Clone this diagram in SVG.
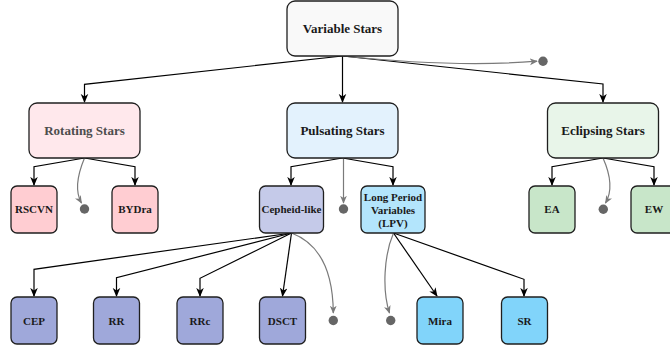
<svg xmlns="http://www.w3.org/2000/svg" width="670" height="351" viewBox="0 0 670 351" font-family="'Liberation Serif', 'Times New Roman', Times, serif">
<defs>
<style>
.box{stroke:#1f1f1f;stroke-width:1.3}
.t{font-weight:bold;fill:#1a1a1a;text-anchor:middle}
.big{font-size:13px}
.sm{font-size:11px}
.c{fill:none;stroke:#000;stroke-width:1.2;marker-end:url(#ab)}
.g{fill:none;stroke:#7a7a7a;stroke-width:1.2;marker-end:url(#ag)}
.dot{fill:#666}
</style>
<marker id="ab" viewBox="0 0 10 10" refX="9" refY="5" markerWidth="9" markerHeight="9" markerUnits="userSpaceOnUse" orient="auto">
<path d="M0,0.8 L10,5 L0,9.2 L2.8,5 z" fill="#000"/>
</marker>
<marker id="ag" viewBox="0 0 10 10" refX="9" refY="5" markerWidth="8" markerHeight="8" markerUnits="userSpaceOnUse" orient="auto">
<path d="M0,0.8 L10,5 L0,9.2 L2.8,5 z" fill="#7a7a7a"/>
</marker>
</defs>

<g id="connectors">
<path class="c" d="M342.5,56 L84.5,84.3 L84.5,102"/>
<path class="c" d="M342.5,56 L342.5,102"/>
<path class="c" d="M342.5,56 L603,84 L603,102"/>
<path class="g" d="M342.5,56 C420,64 490,65 537,61.2"/>
<path class="c" d="M84.5,158 L34,166.7 L34,185"/>
<path class="c" d="M84.5,158 L135,166.7 L135,185"/>
<path class="g" d="M84.5,158 C77,176 75,192 81.5,203"/>
<path class="c" d="M342.5,158 L291,166.7 L291,185"/>
<path class="c" d="M342.5,158 L393,166.7 L393,185"/>
<path class="g" d="M343.5,158 L343.5,203"/>
<path class="c" d="M603,158 L552,166.7 L552,185"/>
<path class="c" d="M603,158 L654,166.7 L654,185"/>
<path class="g" d="M603,158 C611,176 612,192 605.5,203"/>
<path class="c" d="M291.5,233 L34,269.3 L34,296"/>
<path class="c" d="M291.5,233 L116.5,277.7 L116.5,296"/>
<path class="c" d="M291.5,233 L200,278.3 L200,296"/>
<path class="c" d="M291.5,233 L282.5,296"/>
<path class="g" d="M291.5,233 C318,243 333,268 333.3,313"/>
<path class="c" d="M393.5,233 L437,296"/>
<path class="c" d="M393.5,233 L524,279.3 L524,296"/>
<path class="g" d="M393.5,233 C384,255 382,290 389.5,313"/>
</g>

<g id="dots">
<circle class="dot" cx="543" cy="61.3" r="4.7"/>
<circle class="dot" cx="84.5" cy="209" r="4.7"/>
<circle class="dot" cx="343.5" cy="209" r="4.7"/>
<circle class="dot" cx="603.3" cy="209.3" r="4.7"/>
<circle class="dot" cx="333.3" cy="320.5" r="4.7"/>
<circle class="dot" cx="390.7" cy="320.5" r="4.7"/>
</g>

<g id="variable-stars">
<rect class="box" x="287" y="1" width="111" height="55" rx="8" fill="#f9f9f9"/>
<text class="t big" x="342.5" y="32.5">Variable Stars</text>
</g>
<g id="rotating-stars">
<rect class="box" x="29" y="103" width="111" height="55" rx="8" fill="#ffe8ec"/>
<text class="t big" x="84.5" y="134.5" style="fill:#4d4d4d">Rotating Stars</text>
</g>
<g id="pulsating-stars">
<rect class="box" x="287" y="103" width="111" height="55" rx="8" fill="#e3f2fd"/>
<text class="t big" x="342.5" y="134.5">Pulsating Stars</text>
</g>
<g id="eclipsing-stars">
<rect class="box" x="547.5" y="103" width="111" height="55" rx="8" fill="#e8f5e9"/>
<text class="t big" x="603" y="134.5">Eclipsing Stars</text>
</g>

<g id="rscvn">
<rect class="box" x="11" y="186" width="46" height="47" rx="6" fill="#ffcdd2"/>
<text class="t sm" x="34" y="213">RSCVN</text>
</g>
<g id="bydra">
<rect class="box" x="112" y="186" width="46" height="47" rx="6" fill="#ffcdd2"/>
<text class="t sm" x="135" y="213">BYDra</text>
</g>
<g id="cepheid-like">
<rect class="box" x="259.5" y="186" width="64" height="47" rx="6" fill="#c5cae9"/>
<text class="t sm" x="291.5" y="213">Cepheid-like</text>
</g>
<g id="lpv">
<rect class="box" x="361" y="186" width="64" height="47" rx="6" fill="#b3e5fc"/>
<text class="t sm" x="393" y="200.5">Long Period</text>
<text class="t sm" x="393" y="213.5">Variables</text>
<text class="t sm" x="393" y="227">(LPV)</text>
</g>
<g id="ea">
<rect class="box" x="529" y="186" width="46" height="47" rx="6" fill="#c8e6c9"/>
<text class="t sm" x="552" y="213">EA</text>
</g>
<g id="ew">
<rect class="box" x="631" y="186" width="46" height="47" rx="6" fill="#c8e6c9"/>
<text class="t sm" x="654" y="213">EW</text>
</g>

<g id="cep">
<rect class="box" x="11" y="297" width="46" height="47" rx="6" fill="#9fa8da"/>
<text class="t sm" x="34" y="324.5">CEP</text>
</g>
<g id="rr">
<rect class="box" x="93.5" y="297" width="46" height="47" rx="6" fill="#9fa8da"/>
<text class="t sm" x="116.5" y="324.5">RR</text>
</g>
<g id="rrc">
<rect class="box" x="177" y="297" width="46" height="47" rx="6" fill="#9fa8da"/>
<text class="t sm" x="200" y="324.5">RRc</text>
</g>
<g id="dsct">
<rect class="box" x="259.5" y="297" width="46" height="47" rx="6" fill="#9fa8da"/>
<text class="t sm" x="282.5" y="324.5">DSCT</text>
</g>
<g id="mira">
<rect class="box" x="417" y="297" width="46" height="47" rx="6" fill="#81d4fa"/>
<text class="t sm" x="440" y="324.5">Mira</text>
</g>
<g id="sr">
<rect class="box" x="501.5" y="297" width="46" height="47" rx="6" fill="#81d4fa"/>
<text class="t sm" x="524.5" y="324.5">SR</text>
</g>
</svg>
